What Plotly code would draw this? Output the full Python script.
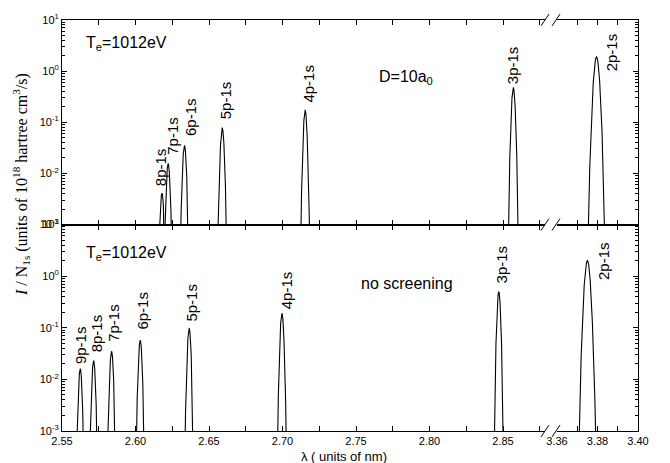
import numpy as np
import plotly.graph_objects as go

# ---------------- data ----------------
TOP_LABELS = ["8p-1s", "7p-1s", "6p-1s", "5p-1s", "4p-1s", "3p-1s", "2p-1s"]
TOP_CENTERS = [2.6180, 2.6222, 2.6333, 2.6590, 2.7154, 2.8570, 3.3795]   # nm
TOP_PEAKS = [0.0041, 0.0155, 0.035, 0.077, 0.17, 0.47, 1.9]
TOP_SIGMA = [0.00092, 0.00092, 0.00093, 0.00095, 0.00090, 0.00095, 0.00105]

BOT_LABELS = ["9p-1s", "8p-1s", "7p-1s", "6p-1s", "5p-1s", "4p-1s", "3p-1s", "2p-1s"]
BOT_CENTERS = [2.5624, 2.5715, 2.5837, 2.6032, 2.6365, 2.6996, 2.8471, 3.3750]
BOT_PEAKS = [0.016, 0.023, 0.035, 0.057, 0.097, 0.19, 0.50, 2.0]
BOT_SIGMA = [0.00087, 0.00088, 0.00090, 0.00090, 0.00090, 0.00090, 0.00088, 0.00105]

Y_TICKS = [1e-3, 1e-2, 1e-1, 1e0, 1e1]
Y_TICKTEXT = ["10<sup>-3</sup>", "10<sup>-2</sup>", "10<sup>-1</sup>", "10<sup>0</sup>", "10<sup>1</sup>"]
XL_TICKS = [2.55, 2.60, 2.65, 2.70, 2.75, 2.80, 2.85]
XL_TICKTEXT = ["2.55", "2.60", "2.65", "2.70", "2.75", "2.80", "2.85"]
XL_MINOR = [2.575, 2.625, 2.675, 2.725, 2.775, 2.825, 2.875]
XR_TICKS = [3.36, 3.38, 3.40]
XR_TICKTEXT = ["3.36", "3.38", "3.40"]
XR_MINOR = [3.37, 3.39]
BREAK_X = 3.37  # lines beyond the axis break go on the right-hand axis

# label offsets in pixels (style, not data): (xshift, yshift, anchor)
TOP_LABEL_OFFS = [(-2, 5, "bottom"), (5, 7, "bottom"), (6, 8, "bottom"), (3, 7, "bottom"),
                  (3, 6, "bottom"), (0, 2, "bottom"), (15, 5, "middle")]
BOT_LABEL_OFFS = [(1, 3, "bottom"), (3, 6, "bottom"), (2, 7, "bottom"), (2, 9, "bottom"),
                  (2, 5, "bottom"), (4, 2, "bottom"), (3, 6, "bottom"), (16, 0, "middle")]

# ---------------- geometry ----------------
W, H = 670, 463
L, R, T, B = 62, 638, 15, 431
PW, PH = R - L, B - T


def px(x):
    return (x - L) / PW


def py(y):
    return (B - y) / PH


mid = py(222)
xl_dom = [0, px(545)]
xr_dom = [px(557), 1]
XL_RANGE = [2.55, 2.55 + (545 - 61.7) / 1471.0]
XR_RANGE = [3.36, 3.40]

FONT = "Liberation Sans, Arial, sans-serif"
SERIF = "Liberation Serif, Times New Roman, serif"

fig = go.Figure()


def profile_segments(centers, peaks, sigmas, right):
    xs, ys = [], []
    for c, a, s in zip(centers, peaks, sigmas):
        if (c > BREAK_X) != right:
            continue
        xx = np.linspace(c - 5 * s, c + 5 * s, 161)
        yy = a * np.exp(-((xx - c) ** 2) / (2 * s * s))
        xs += list(xx) + [None]
        ys += list(yy) + [None]
    return xs, ys


panels = [
    (TOP_CENTERS, TOP_PEAKS, TOP_SIGMA, ("x", "y"), ("x2", "y2")),
    (BOT_CENTERS, BOT_PEAKS, BOT_SIGMA, ("x3", "y3"), ("x4", "y4")),
]
for centers, peaks, sigmas, left_ax, right_ax in panels:
    for right, (xa, ya) in ((False, left_ax), (True, right_ax)):
        xs, ys = profile_segments(centers, peaks, sigmas, right)
        fig.add_trace(go.Scatter(x=xs, y=ys, mode="lines", xaxis=xa, yaxis=ya,
                                 line=dict(color="black", width=1.1),
                                 showlegend=False, hoverinfo="skip"))

minor_vals = [k * 10.0 ** d for d in range(-3, 1) for k in range(2, 10)]

common_x = dict(showgrid=False, zeroline=False, showline=True, linecolor="black",
                linewidth=1, ticks="inside", ticklen=5, tickcolor="black",
                mirror="ticks", tickfont=dict(family=FONT, size=11, color="black"))
common_y = dict(type="log", range=[-3, 1], showgrid=False, zeroline=False,
                showline=True, linecolor="black", linewidth=1, ticks="inside",
                ticklen=5, tickcolor="black", tickvals=Y_TICKS, ticktext=Y_TICKTEXT,
                tickfont=dict(family=FONT, size=11, color="black"),
                minor=dict(ticks="inside", ticklen=3, tickcolor="black",
                           tickvals=minor_vals, showgrid=False))
minor_xl = dict(ticks="inside", ticklen=5, tickcolor="black", tickvals=XL_MINOR, showgrid=False)
minor_xr = dict(ticks="inside", ticklen=5, tickcolor="black", tickvals=XR_MINOR, showgrid=False)

fig.update_layout(
    width=W, height=H,
    margin=dict(l=L, r=W - R, t=T, b=H - B),
    paper_bgcolor="white", plot_bgcolor="white",
    xaxis=dict(common_x, domain=xl_dom, anchor="y", range=XL_RANGE,
               tickvals=XL_TICKS, ticktext=XL_TICKTEXT, minor=minor_xl, showticklabels=False),
    xaxis2=dict(common_x, domain=xr_dom, anchor="y2", range=XR_RANGE,
                tickvals=XR_TICKS, ticktext=XR_TICKTEXT, minor=minor_xr, showticklabels=False),
    xaxis3=dict(common_x, domain=xl_dom, anchor="y3", range=XL_RANGE,
                tickvals=XL_TICKS, ticktext=XL_TICKTEXT, minor=minor_xl),
    xaxis4=dict(common_x, domain=xr_dom, anchor="y4", range=XR_RANGE,
                tickvals=XR_TICKS, ticktext=XR_TICKTEXT, minor=minor_xr),
    yaxis=dict(common_y, domain=[mid, 1], anchor="x", side="left"),
    yaxis2=dict(common_y, domain=[mid, 1], anchor="x2", side="right", showticklabels=False),
    yaxis3=dict(common_y, domain=[0, mid], anchor="x3", side="left"),
    yaxis4=dict(common_y, domain=[0, mid], anchor="x4", side="right", showticklabels=False),
)

annotations = []
# peak labels
label_sets = [
    (TOP_LABELS, TOP_CENTERS, TOP_PEAKS, TOP_LABEL_OFFS, ("x", "y"), ("x2", "y2")),
    (BOT_LABELS, BOT_CENTERS, BOT_PEAKS, BOT_LABEL_OFFS, ("x3", "y3"), ("x4", "y4")),
]
for labels, centers, peaks, offs, lax, rax in label_sets:
    for lab, c, a, (dx, dy, anc) in zip(labels, centers, peaks, offs):
        xa, ya = rax if c > BREAK_X else lax
        annotations.append(dict(
            x=c, y=np.log10(a), xref=xa, yref=ya, text=lab, showarrow=False,
            textangle=-90, xanchor="center", yanchor=anc,
            xshift=dx, yshift=dy,
            font=dict(family=FONT, size=15, color="black")))


def note(x, y, text, size=16, family=FONT, angle=0, xanchor="left"):
    annotations.append(dict(x=px(x), y=py(y), xref="paper", yref="paper", text=text,
                            showarrow=False, textangle=angle, xanchor=xanchor,
                            yanchor="middle", font=dict(family=family, size=size, color="black")))


note(84, 39, "T<sub>e</sub>=1012eV")
note(84, 251, "T<sub>e</sub>=1012eV")
note(377, 73, "D=10a<sub>0</sub>")
note(359, 282, "no screening")
note(344, 457, "λ ( units of nm)", size=13, xanchor="center")
note(21, 182, "<i>I</i> / N<sub>1s</sub> (units of 10<sup>18</sup> hartree cm<sup>3</sup>/s)",
     size=16, family=SERIF, angle=-90, xanchor="center")
fig.update_layout(annotations=annotations)

# axis-break marks
shapes = []
for yy in (15, 222, 431):
    for x0 in (541, 552):
        shapes.append(dict(type="line", xref="paper", yref="paper",
                           x0=px(x0), y0=py(yy + 6), x1=px(x0 + 8), y1=py(yy - 6),
                           line=dict(color="black", width=1)))
fig.update_layout(shapes=shapes)

fig.write_html("out.html")
